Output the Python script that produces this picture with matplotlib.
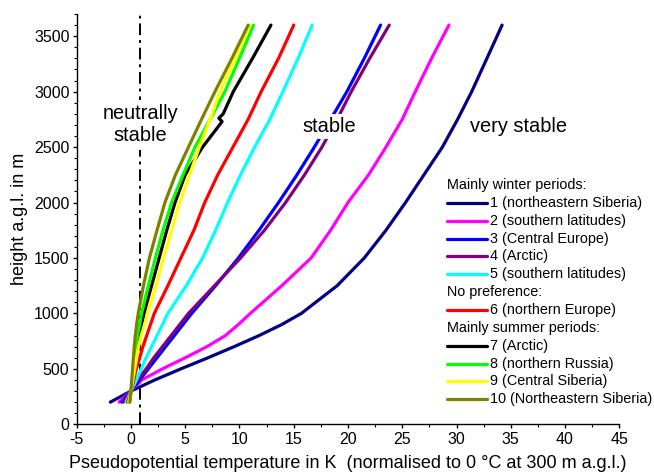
import numpy as np
import matplotlib
matplotlib.use("Agg")
import matplotlib.pyplot as plt
from matplotlib.ticker import MultipleLocator

plt.rcParams['font.family'] = ['Liberation Sans', 'DejaVu Sans']
plt.rcParams['axes.unicode_minus'] = False

# heights (m a.g.l.) at which the profiles are given
heights = [200, 300, 400, 500, 600, 700, 800, 900, 1000, 1250, 1500,
           1750, 2000, 2250, 2500, 2750, 3000, 3300, 3600]

# pseudopotential temperature (K), normalised to 0 at 300 m
t1 = [-1.9, 0.0, 2.2, 4.6, 7.1, 9.5, 11.8, 13.9, 15.7, 19.0, 21.5,
      23.5, 25.3, 27.0, 28.7, 30.1, 31.4, 32.8, 34.2]
t2 = [-1.1, 0.0, 1.0, 2.9, 5.0, 7.0, 8.7, 9.9, 11.0, 13.9, 16.6,
      18.4, 20.0, 21.9, 23.5, 25.0, 26.2, 27.7, 29.3]
t3 = [-0.85, 0.0, 0.8, 1.6, 2.4, 3.2, 4.0, 4.8, 5.6, 7.8, 9.9,
      11.8, 13.6, 15.3, 16.9, 18.4, 19.9, 21.5, 23.0]
t4 = [-0.7, 0.0, 0.6, 1.4, 2.1, 2.9, 3.7, 4.5, 5.3, 7.7, 10.1,
      12.3, 14.25, 16.0, 17.6, 19.0, 20.3, 22.0, 23.8]
t5 = [-0.45, 0.0, 0.5, 0.95, 1.4, 1.9, 2.4, 2.9, 3.4, 5.1, 6.6,
      7.8, 8.9, 10.1, 11.4, 12.8, 14.0, 15.4, 16.7]
t6 = [-0.3, 0.0, 0.25, 0.5, 0.8, 1.1, 1.45, 1.8, 2.15, 3.4, 4.6,
      5.8, 6.8, 8.0, 9.4, 10.8, 12.0, 13.6, 15.0]
t8 = [-0.15, 0.0, 0.12, 0.25, 0.35, 0.45, 0.6, 0.8, 0.98, 1.6, 2.25,
      2.95, 3.75, 4.8, 5.9, 7.3, 8.66, 10.0, 11.3]
t9 = [-0.2, 0.0, 0.17, 0.35, 0.52, 0.7, 0.95, 1.25, 1.54, 2.3, 3.0,
      3.75, 4.5, 5.4, 6.3, 7.3, 8.2, 9.6, 10.95]
t10 = [-0.1, 0.0, 0.07, 0.15, 0.22, 0.3, 0.4, 0.52, 0.67, 1.15, 1.7,
       2.4, 3.13, 4.1, 5.3, 6.5, 7.74, 9.3, 10.8]

# profile 7 has a small jump near 2750 m
heights7 = [200, 300, 400, 500, 600, 700, 800, 900, 1000, 1250, 1500,
            1750, 2000, 2250, 2500, 2730, 2760, 2800, 3000, 3300, 3600]
t7 = [-0.15, 0.0, 0.15, 0.3, 0.45, 0.6, 0.8, 1.0, 1.2, 1.9, 2.6,
      3.3, 4.06, 5.0, 6.6, 8.4, 8.1, 8.5, 9.43, 11.2, 12.9]

labels = ['1 (northeastern Siberia)', '2 (southern latitudes)', '3 (Central Europe)',
          '4 (Arctic)', '5 (southern latitudes)', '6 (northern Europe)',
          '7 (Arctic)', '8 (northern Russia)', '9 (Central Siberia)',
          '10 (Northeastern Siberia)']
colors = ['#000080', '#ff00ff', '#0000ff', '#800080', '#00ffff', '#ff0000',
          '#000000', '#00ff00', '#ffff00', '#808000']
groups = {0: 'Mainly winter periods:', 5: 'No preference:', 6: 'Mainly summer periods:'}

neutral_x = 0.87

profiles = [(t1, heights), (t2, heights), (t3, heights), (t4, heights), (t5, heights),
            (t6, heights), (t7, heights7), (t8, heights), (t9, heights), (t10, heights)]

W, H = 654, 475
fig = plt.figure(figsize=(W / 100, H / 100), dpi=100)
ax = fig.add_axes([76.7 / W, 1 - 424.3 / H, 542.6 / W, 410.3 / H])

ax.axvline(neutral_x, color='k', lw=1.4, ls=(0, (6, 2.5, 1.5, 2.5)), zorder=1)

for (t, h), c in zip(profiles, colors):
    ax.plot(t, h, color=c, lw=2.3, solid_capstyle='round',
            solid_joinstyle='round', zorder=2)

ax.set_xlim(-5, 45)
ax.set_ylim(0, 3700)
ax.xaxis.set_major_locator(MultipleLocator(5))
ax.xaxis.set_minor_locator(MultipleLocator(2.5))
ax.yaxis.set_major_locator(MultipleLocator(500))
ax.yaxis.set_minor_locator(MultipleLocator(100))
ax.spines['top'].set_visible(False)
ax.spines['right'].set_visible(False)
for s in ('left', 'bottom'):
    ax.spines[s].set_linewidth(1.0)
ax.tick_params(which='major', direction='out', length=3.2, width=1.0,
               labelsize=11.5, pad=2)
ax.tick_params(which='minor', direction='out', length=2, width=0.8)

ax.set_xlabel('Pseudopotential temperature in K  (normalised to 0 °C at 300 m a.g.l.)',
              fontsize=13, labelpad=6)
ax.set_ylabel('height a.g.l. in m', fontsize=13, labelpad=4)

ax.text(neutral_x, 2700, 'neutrally\nstable', fontsize=14.4, ha='center', va='center',
        bbox=dict(fc='white', ec='none', pad=3), zorder=3)
ax.text(18.3, 2683, 'stable', fontsize=14.4, ha='center', va='center',
        bbox=dict(fc='white', ec='none', pad=2), zorder=3)
ax.text(35.7, 2683, 'very stable', fontsize=14.4, ha='center', va='center')

# legend with group headings, laid out row by row
x0, x1, xt = 447 / W, 487 / W, 490 / W
row = 0
y_first, dy = 185, 17.86
for i, (lab, c) in enumerate(zip(labels, colors)):
    if i in groups:
        y = 1 - (y_first + row * dy) / H
        fig.text(x0, y, groups[i], fontsize=10.4, ha='left', va='center')
        row += 1
    y = 1 - (y_first + row * dy) / H
    fig.add_artist(plt.Line2D([x0, x1], [y, y], color=c, lw=2.3,
                              solid_capstyle='round'))
    fig.text(xt, y, lab, fontsize=10.4, ha='left', va='center')
    row += 1

fig.savefig('out.png', dpi=100)
